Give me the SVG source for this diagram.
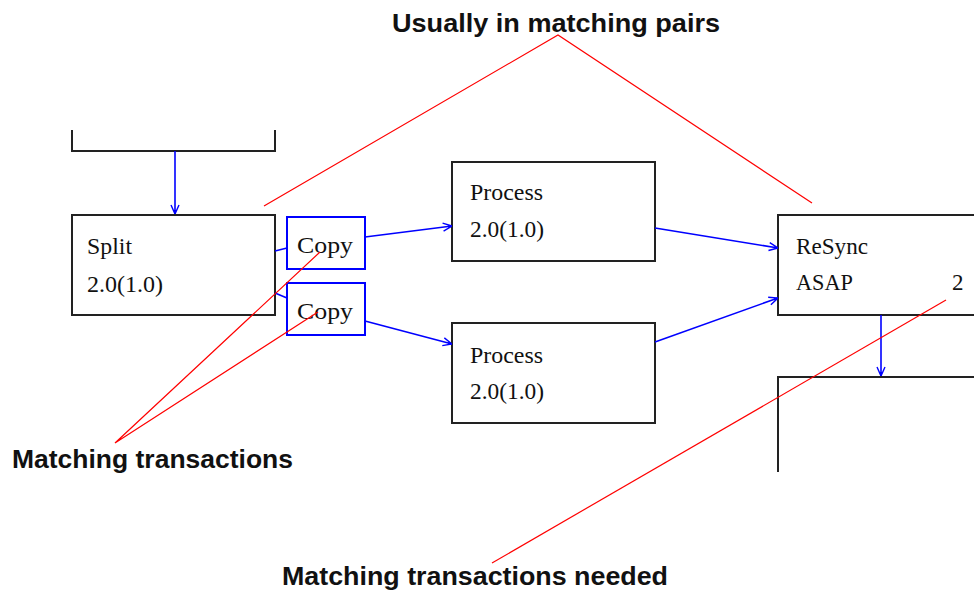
<svg xmlns="http://www.w3.org/2000/svg" width="974" height="592" viewBox="0 0 974 592">
  <style>
    .box { fill: #fff; stroke: #222; stroke-width: 2; }
    .copy { fill: #fff; stroke: #0000ff; stroke-width: 2; }
    .lbl { font-family: "Liberation Serif", "Times New Roman", serif; font-size: 23px; fill: #111; }
    .note { font-family: "Liberation Sans", Arial, sans-serif; font-size: 25px; font-weight: bold; fill: #111; }
    .flow { fill: none; stroke: #0000ff; stroke-width: 1.6; }
    .ptr { fill: none; stroke: #ff0000; stroke-width: 1.2; }
  </style>
  <defs>
    <marker id="arrow" viewBox="0 0 10 10" refX="10" refY="5" markerWidth="10" markerHeight="10" markerUnits="userSpaceOnUse" orient="auto">
      <path d="M1,1 L10,5 L1,9" fill="none" stroke="#0000ff" stroke-width="1.4"/>
      <path d="M6,3.5 L10,5 L6,6.5 Z" fill="#0000ff"/>
    </marker>
  </defs>
  <rect width="974" height="592" fill="#fff"/>

  <!-- upstream node, only its lower edge is in view -->
  <g id="node-upstream">
    <path class="box" d="M72,130 V151 H275 V130" fill="none"/>
  </g>

  <g id="node-split">
    <rect class="box" x="72" y="215" width="203" height="100"/>
    <text class="lbl" x="87" y="254" textLength="45" lengthAdjust="spacingAndGlyphs">Split</text>
    <text class="lbl" x="87" y="292" textLength="76" lengthAdjust="spacingAndGlyphs">2.0(1.0)</text>
  </g>

  <g id="node-copy-1">
    <rect class="copy" x="287" y="217" width="78" height="52"/>
    <text class="lbl" x="297" y="253" textLength="56" lengthAdjust="spacingAndGlyphs">Copy</text>
  </g>

  <g id="node-copy-2">
    <rect class="copy" x="287" y="283" width="78" height="52"/>
    <text class="lbl" x="297" y="319" textLength="56" lengthAdjust="spacingAndGlyphs">Copy</text>
  </g>

  <g id="node-process-1">
    <rect class="box" x="452" y="162" width="203" height="99"/>
    <text class="lbl" x="470" y="200" textLength="73" lengthAdjust="spacingAndGlyphs">Process</text>
    <text class="lbl" x="470" y="237" textLength="74" lengthAdjust="spacingAndGlyphs">2.0(1.0)</text>
  </g>

  <g id="node-process-2">
    <rect class="box" x="452" y="323" width="203" height="100"/>
    <text class="lbl" x="470" y="363" textLength="73" lengthAdjust="spacingAndGlyphs">Process</text>
    <text class="lbl" x="470" y="399" textLength="74" lengthAdjust="spacingAndGlyphs">2.0(1.0)</text>
  </g>

  <g id="node-resync">
    <rect class="box" x="778" y="215" width="210" height="100"/>
    <text class="lbl" x="796" y="254" textLength="72" lengthAdjust="spacingAndGlyphs">ReSync</text>
    <text class="lbl" x="796" y="290" textLength="57" lengthAdjust="spacingAndGlyphs">ASAP</text>
    <text class="lbl" x="952" y="290">2</text>
  </g>

  <!-- downstream node, partly out of view -->
  <g id="node-downstream">
    <path class="box" d="M778,472 V377 H976" fill="none"/>
  </g>

  <g id="connectors">
    <line class="flow" x1="175" y1="151" x2="175" y2="214" marker-end="url(#arrow)"/>
    <line class="flow" x1="275" y1="251" x2="287" y2="248"/>
    <line class="flow" x1="275" y1="293" x2="287" y2="298"/>
    <line class="flow" x1="365" y1="237" x2="452" y2="226" marker-end="url(#arrow)"/>
    <line class="flow" x1="365" y1="321" x2="452" y2="344" marker-end="url(#arrow)"/>
    <line class="flow" x1="655" y1="228" x2="778" y2="248" marker-end="url(#arrow)"/>
    <line class="flow" x1="655" y1="342" x2="778" y2="298" marker-end="url(#arrow)"/>
    <line class="flow" x1="881" y1="315" x2="881" y2="376" marker-end="url(#arrow)"/>
  </g>

  <g id="annotations">
    <text class="note" x="392" y="32" textLength="328" lengthAdjust="spacingAndGlyphs">Usually in matching pairs</text>
    <polyline class="ptr" points="264,206 558,35 812,203"/>

    <text class="note" x="12" y="468" textLength="281" lengthAdjust="spacingAndGlyphs">Matching transactions</text>
    <polyline class="ptr" points="320,252 115,443 318,312"/>

    <text class="note" x="282" y="585" textLength="386" lengthAdjust="spacingAndGlyphs">Matching transactions needed</text>
    <line class="ptr" x1="946" y1="300" x2="492" y2="563"/>
  </g>
</svg>
